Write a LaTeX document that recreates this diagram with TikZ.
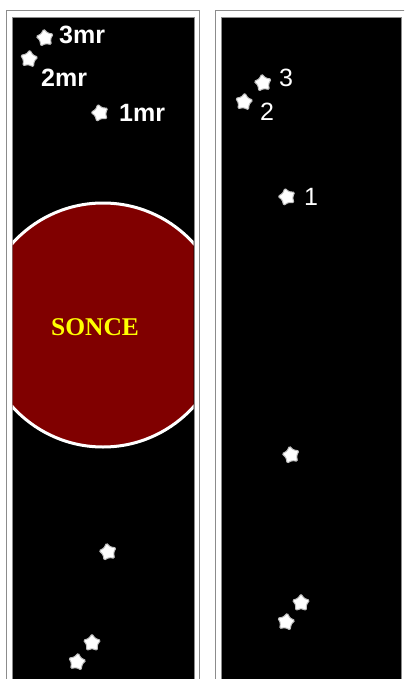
\documentclass[tikz,border=0pt]{standalone}
\usepackage{fontspec}
\setmainfont{Liberation Sans}
\newfontfamily\timesbf{Liberation Serif}
\usetikzlibrary{positioning, shapes.geometric}

\definecolor{sunred}{RGB}{128,0,0}
\definecolor{sunyellow}{RGB}{255,255,0}

\begin{document}
\begin{tikzpicture}[x=1pt, y=-1pt,
    planet/.style={star, star points=5, star point ratio=1.6, fill=white,
      draw=white!75!black, line width=1pt, minimum size=18pt,
      inner sep=0pt, rounded corners=1.2pt},
    lbl/.style={text=white, inner sep=0pt, font=\fontsize{25}{25}\selectfont},
    lblb/.style={lbl, font=\bfseries\fontsize{25}{25}\selectfont},
    frame/.style={draw=black!45, line width=0.9pt}]
  \useasboundingbox (0,0) rectangle (404,679);
  \clip (0,0) rectangle (404,679);
  \fill[white] (0,0) rectangle (404,679);

  % two panels, both run off the bottom
  \draw[frame] (6.5,10) rectangle (199.5,700);
  \draw[frame, fill=black] (12,17) rectangle (194,700);
  \draw[frame] (215.5,10) rectangle (410,700);
  \draw[frame, fill=black] (221,17) rectangle (401,700);

  % sun, cut by the panel edges
  \begin{scope}
    \clip (12.5,17.5) rectangle (193.5,700);
    \node (sun) [circle, fill=sunred, draw=white, line width=3pt,
      minimum size=244pt, inner sep=0pt] at (103,325) {};
  \end{scope}
  \node (sonce) at (95,327) [text=sunyellow,
    font=\timesbf\bfseries\fontsize{25.5}{25}\selectfont] {SONCE};

  % left panel
  \node (s3mr) [planet, rotate=8] at (45,38) {};
  \node (s2mr) [planet, rotate=-6] at (29,59) {};
  \node (s1mr) [planet, rotate=14] at (100,113) {};
  \node (l3mr) [lblb, right=14pt of s3mr.center, yshift=3pt] {3mr};
  \node (l2mr) [lblb, below right=10pt and 12pt of s2mr.center] {2mr};
  \node (l1mr) [lblb, right=19pt of s1mr.center] {1mr};

  \node (a1) [planet, rotate=10] at (108,552) {};
  \node (a2) [planet] at (92,643) {};
  \node (a3) [planet, rotate=-8] at (77,662) {};

  % right panel
  \node (s3) [planet, rotate=8] at (263,83) {};
  \node (s2) [planet, rotate=-6] at (244,102) {};
  \node (s1) [planet, rotate=14] at (287,197) {};
  \node (l3) [lbl, right=16pt of s3.center, yshift=5pt] {3};
  \node (l2) [lbl, below right=1pt and 16pt of s2.center] {2};
  \node (l1) [lbl, right=17pt of s1.center] {1};

  \node (b1) [planet, rotate=10] at (291,455) {};
  \node (b2) [planet] at (301,603) {};
  \node (b3) [planet, rotate=-8] at (286,622) {};
\end{tikzpicture}
\end{document}
